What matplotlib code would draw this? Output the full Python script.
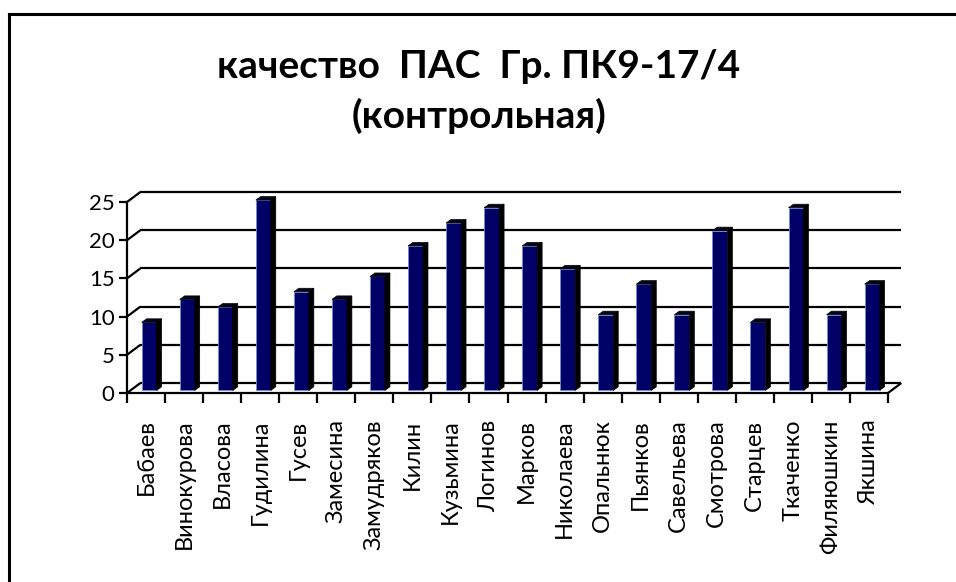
import matplotlib
matplotlib.use("Agg")
import matplotlib.pyplot as plt
from matplotlib.patches import Polygon
from matplotlib.lines import Line2D

plt.rcParams['font.family'] = ['Lato', 'DejaVu Sans']

names = ["Бабаев", "Винокурова", "Власова", "Гудилина", "Гусев", "Замесина",
         "Замудряков", "Килин", "Кузьмина", "Логинов", "Марков", "Николаева",
         "Опальнюк", "Пьянков", "Савельева", "Смотрова", "Старцев", "Ткаченко",
         "Филяюшкин", "Якшина"]
scores = [9, 12, 11, 25, 13, 12, 15, 19, 22, 24, 19, 16, 10, 14, 10, 21, 9, 24, 10, 14]
y_ticks = [0, 5, 10, 15, 20, 25]

W, H, DPI = 956, 582, 100
fig = plt.figure(figsize=(W / DPI, H / DPI), dpi=DPI)

# plot area in pixels: x 127..888, y 202..393
x0, x1, y0, y1 = 127, 888, 202, 393
ax = fig.add_axes([x0 / W, (H - y1) / H, (x1 - x0) / W, (y1 - y0) / H])
n = len(names)
ax.set_xlim(0, n)
ax.set_ylim(0, 25)
for s in ["top", "right", "bottom"]:
    ax.spines[s].set_visible(False)
ax.spines["left"].set_linewidth(1.6)

# depth of the back wall in data units
DX, DY = 0.35, 1.3
grid_kw = dict(color="black", lw=1.6, clip_on=False, solid_capstyle="butt")
for v in y_ticks:
    ax.plot([0, DX], [v, v + DY], **grid_kw)
    ax.plot([DX, n + DX], [v + DY, v + DY], **grid_kw)
# floor
ax.plot([0, n], [0, 0], **grid_kw)
ax.plot([n, n + DX], [0, DY], **grid_kw)

# bars with a small 3D extrusion
fx, fw = 0.386, 0.394
base = 0.35
sdx, sdy = 0.13, 0.46
xs = [i + fx for i in range(n)]
ax.bar(xs, [v - 0.1 for v in scores], width=fw, bottom=base, align="edge",
       color="#000066", edgecolor="#6f8fd0", linewidth=0.6, zorder=3, clip_on=False)
for xl, v in zip(xs, scores):
    top = v + 0.25
    xr = xl + fw
    ax.add_patch(Polygon([(xr, base), (xr + sdx, base + sdy), (xr + sdx, top + sdy), (xr, top)],
                         closed=True, facecolor="black", edgecolor="black", lw=0.5,
                         zorder=3, clip_on=False))
    ax.add_patch(Polygon([(xl, top), (xr, top), (xr + sdx, top + sdy), (xl + sdx, top + sdy)],
                         closed=True, facecolor="#05051a", edgecolor="black", lw=0.5,
                         zorder=3, clip_on=False))

ax.set_yticks(y_ticks)
ax.set_yticklabels([str(v) for v in y_ticks], fontsize=16)
ax.tick_params(axis="y", direction="out", length=6, width=1.6, pad=3)

# category boundary ticks and labels
ax.set_xticks(range(n + 1))
ax.set_xticklabels([])
ax.tick_params(axis="x", direction="out", length=7, width=1.6, bottom=True)
ax.set_xticks([i + 0.5 for i in range(n)], minor=True)
ax.set_xticklabels(names, minor=True, rotation=90, fontsize=17, va="top", ha="center")
ax.tick_params(axis="x", which="minor", length=0, pad=19)

# title
fig.text(479 / W, 1 - 66 / H, "качество  ПАС  Гр. ПК9-17/4", ha="center", va="center",
         fontsize=28, fontweight="bold")
fig.text(479 / W, 1 - 116 / H, "(контрольная)", ha="center", va="center",
         fontsize=28, fontweight="bold")

# chart frame (left and top edges)
fig.add_artist(Line2D([8.5 / W, 8.5 / W], [0, 1 - 14 / H], color="black", lw=2.2,
                      transform=fig.transFigure))
fig.add_artist(Line2D([8.5 / W, 1], [1 - 14 / H, 1 - 14 / H], color="black", lw=2.2,
                      transform=fig.transFigure))

fig.savefig("out.png", dpi=DPI)
